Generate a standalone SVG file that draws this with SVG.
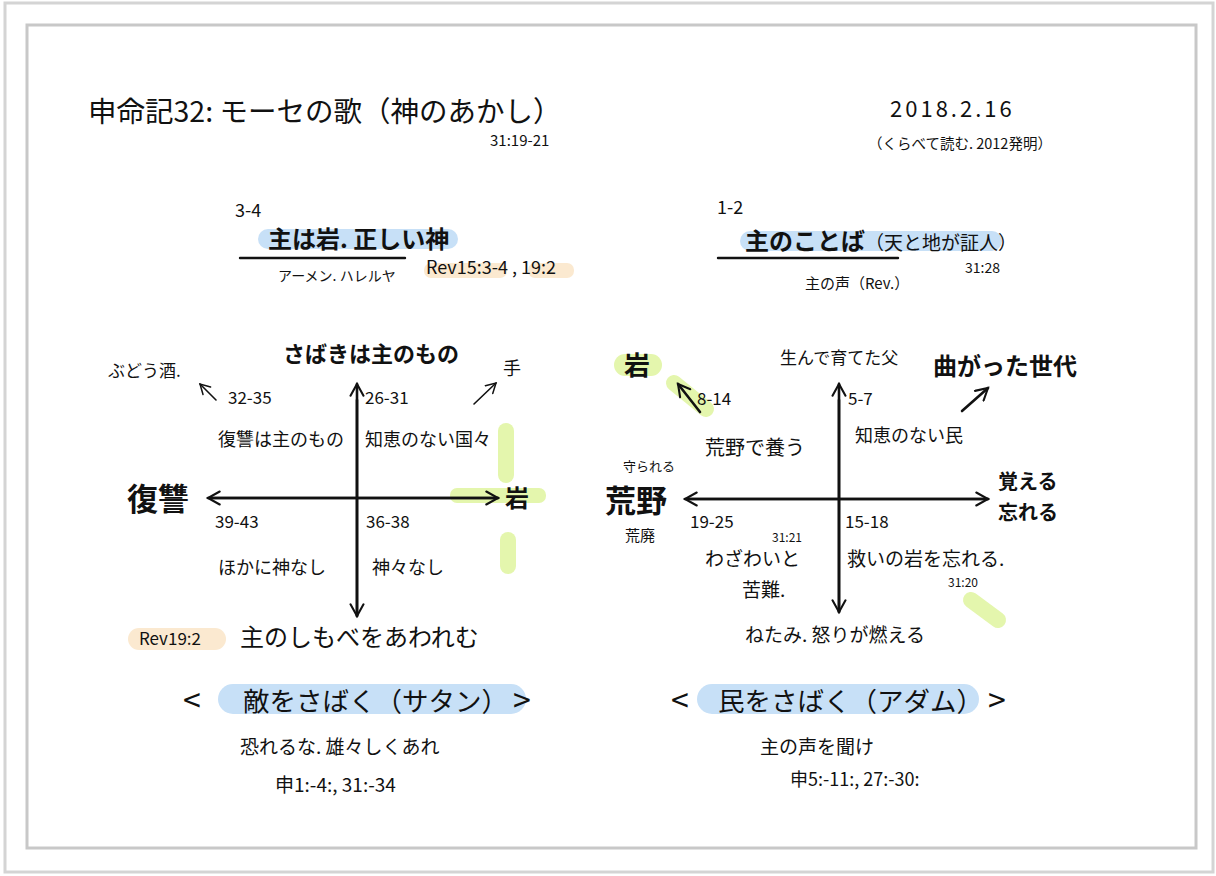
<svg xmlns="http://www.w3.org/2000/svg" width="1216" height="876" viewBox="0 0 1216 876">
<style>
text{font-family:"Noto Sans CJK JP","Noto Sans",sans-serif;fill:#111;}
.b{font-weight:700;}
.ax{stroke:#111;stroke-width:2.6;fill:none;stroke-linecap:round;}
.sm{stroke:#111;stroke-width:1.6;fill:none;stroke-linecap:round;}
.bl{fill:#c7e0f7;}
.gr{fill:#e4f6ad;}
.or{fill:#fbe9d0;}
.ul{stroke:#111;stroke-width:2.4;stroke-linecap:round;}
</style>
<defs>
<marker id="ah" viewBox="0 0 12 12" refX="10" refY="6" markerWidth="6" markerHeight="6" orient="auto" markerUnits="strokeWidth">
<path d="M1,1 L10,6 L1,11" fill="none" stroke="#111" stroke-width="1.6" stroke-linecap="round"/>
</marker>
<marker id="ahs" viewBox="0 0 12 12" refX="10" refY="6" markerWidth="8" markerHeight="8" orient="auto" markerUnits="strokeWidth">
<path d="M1,1 L10,6 L1,11" fill="none" stroke="#111" stroke-width="1.4" stroke-linecap="round"/>
</marker>
</defs>
<rect x="0" y="0" width="1216" height="876" fill="#ffffff"/>
<rect x="5" y="3" width="1208" height="869" fill="#fff" stroke="#d4d4d4" stroke-width="3"/>
<rect x="27" y="25" width="1169" height="823" fill="#fff" stroke="#c8c8c8" stroke-width="3"/>

<g id="highlights">
<rect class="bl" x="258" y="229" width="200" height="20" rx="10"/>
<rect class="or" x="424" y="263" width="83" height="15" rx="7"/>
<rect class="or" x="528" y="263" width="46" height="15" rx="7"/>
<rect class="bl" x="740" y="231" width="262" height="20" rx="10"/>
<rect class="gr" x="498" y="423" width="16" height="60" rx="8"/>
<rect class="gr" x="450" y="488" width="96" height="15" rx="7"/>
<rect class="gr" x="500" y="532" width="16" height="42" rx="8"/>
<rect class="or" x="128" y="628" width="98" height="22" rx="11"/>
<rect class="bl" x="218" y="684" width="308" height="30" rx="15"/>
<rect class="bl" x="697" y="684" width="282" height="30" rx="15"/>
<rect class="gr" x="614" y="354" width="48" height="22" rx="11"/>
<line x1="674" y1="383" x2="706" y2="409" stroke="#e4f6ad" stroke-width="16" stroke-linecap="round"/>
<line x1="971" y1="600" x2="998" y2="620" stroke="#e4f6ad" stroke-width="16" stroke-linecap="round"/>
</g>

<g id="connectors">
<line class="ax" x1="357" y1="616" x2="357" y2="384" marker-end="url(#ah)"/>
<line class="ax" x1="357" y1="400" x2="357" y2="616" marker-end="url(#ah)"/>
<line class="ax" x1="498" y1="498" x2="208" y2="498" marker-end="url(#ah)"/>
<line class="ax" x1="210" y1="498" x2="498" y2="498" marker-end="url(#ah)"/>
<line class="ax" x1="839" y1="612" x2="839" y2="384" marker-end="url(#ah)"/>
<line class="ax" x1="839" y1="400" x2="839" y2="612" marker-end="url(#ah)"/>
<line class="ax" x1="988" y1="499" x2="685" y2="499" marker-end="url(#ah)"/>
<line class="ax" x1="690" y1="499" x2="988" y2="499" marker-end="url(#ah)"/>
<line class="sm" x1="216" y1="400" x2="200" y2="384" marker-end="url(#ahs)"/>
<line class="sm" x1="474" y1="404" x2="496" y2="383" marker-end="url(#ahs)"/>
<line class="ax" x1="700" y1="412" x2="678" y2="384" marker-end="url(#ah)"/>
<line class="ax" x1="962" y1="411" x2="988" y2="388" marker-end="url(#ah)"/>
<line class="ul" x1="240" y1="258" x2="405" y2="258"/>
<line class="ul" x1="718" y1="258" x2="898" y2="258"/>
</g>

<g id="title">
<text x="88" y="122" font-size="28.5">申命記32: モーセの歌（神のあかし）</text>
<text x="490" y="146" font-size="15">31:19-21</text>
</g>
<g id="date">
<text x="890" y="117" font-size="22" letter-spacing="3">2018.2.16</text>
<text x="868" y="149" font-size="14.5">（くらべて読む. 2012発明）</text>
</g>

<g id="head-left">
<text x="235" y="217" font-size="18">3-4</text>
<text x="268" y="248" font-size="24" class="b">主は岩. 正しい神</text>
<text x="278" y="281" font-size="14">アーメン. ハレルヤ</text>
<text x="426" y="274" font-size="18">Rev15:3-4 , 19:2</text>
</g>

<g id="head-right">
<text x="717" y="214" font-size="18">1-2</text>
<text x="745" y="250" font-size="24" class="b">主のことば<tspan font-size="19" font-weight="400">（天と地が証人）</tspan></text>
<text x="965" y="273" font-size="14">31:28</text>
<text x="805" y="289" font-size="15">主の声（Rev.）</text>
</g>

<g id="left-top">
<text x="283" y="362" font-size="22" class="b">さばきは主のもの</text>
<text x="108" y="377" font-size="17">ぶどう酒.</text>
<text x="228" y="404" font-size="17">32-35</text>
<text x="365" y="404" font-size="17">26-31</text>
<text x="503" y="375" font-size="18">手</text>
<text x="218" y="446" font-size="18">復讐は主のもの</text>
<text x="365" y="446" font-size="18">知恵のない国々</text>
</g>
<g id="left-mid">
<text x="127" y="510" font-size="31" class="b">復讐</text>
<text x="505" y="507" font-size="24" class="b">岩</text>
<text x="215" y="528" font-size="17">39-43</text>
<text x="366" y="528" font-size="17">36-38</text>
<text x="218" y="574" font-size="18">ほかに神なし</text>
<text x="372" y="574" font-size="18">神々なし</text>
</g>
<g id="left-bottom">
<text x="139" y="645" font-size="17">Rev19:2</text>
<text x="240" y="646" font-size="24">主のしもべをあわれむ</text>
</g>
<g id="left-summary">
<text x="183" y="712" font-size="32">&lt;</text>
<text x="243" y="711" font-size="26.5">敵をさばく（サタン）</text>
<text x="513" y="712" font-size="32">&gt;</text>
<text x="240" y="754" font-size="19">恐れるな. 雄々しくあれ</text>
<text x="275" y="792" font-size="19">申1:-4:, 31:-34</text>
</g>

<g id="right-top">
<text x="624" y="375" font-size="26" class="b">岩</text>
<text x="697" y="405" font-size="17">8-14</text>
<text x="780" y="364" font-size="17">生んで育てた父</text>
<text x="848" y="405" font-size="17">5-7</text>
<text x="933" y="375" font-size="24" class="b">曲がった世代</text>
<text x="855" y="442" font-size="18">知恵のない民</text>
<text x="705" y="455" font-size="20">荒野で養う</text>
</g>
<g id="right-mid">
<text x="623" y="471" font-size="13">守られる</text>
<text x="605" y="512" font-size="31" class="b">荒野</text>
<text x="625" y="541" font-size="15">荒廃</text>
<text x="998" y="489" font-size="20" class="b">覚える</text>
<text x="998" y="520" font-size="20" class="b">忘れる</text>
<text x="690" y="528" font-size="17">19-25</text>
<text x="845" y="528" font-size="17">15-18</text>
<text x="772" y="542" font-size="12">31:21</text>
<text x="705" y="566" font-size="19">わざわいと</text>
<text x="742" y="597" font-size="19">苦難.</text>
<text x="847" y="566" font-size="19">救いの岩を忘れる.</text>
<text x="948" y="587" font-size="12">31:20</text>
<text x="745" y="642" font-size="19">ねたみ. 怒りが燃える</text>
</g>
<g id="right-summary">
<text x="671" y="712" font-size="32">&lt;</text>
<text x="718" y="711" font-size="26.5">民をさばく（アダム）</text>
<text x="988" y="712" font-size="32">&gt;</text>
<text x="760" y="754" font-size="19">主の声を聞け</text>
<text x="790" y="786" font-size="18">申5:-11:, 27:-30:</text>
</g>
</svg>
